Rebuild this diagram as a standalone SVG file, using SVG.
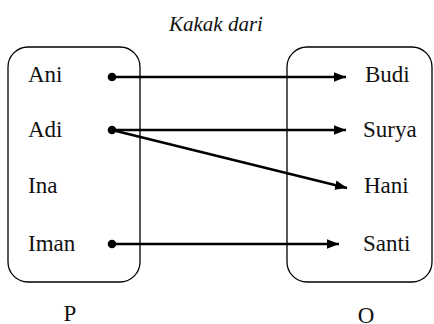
<svg xmlns="http://www.w3.org/2000/svg" width="434" height="324" viewBox="0 0 434 324">
  <style>
    .set { fill: none; stroke: #000; stroke-width: 1.3; }
    .lbl { font-family: 'Liberation Serif', 'DejaVu Serif', serif; font-size: 23px; fill: #111; }
    .ttl { font-family: 'Liberation Serif', 'DejaVu Serif', serif; font-size: 21px; font-style: italic; fill: #111; }
    .edge { stroke: #000; stroke-width: 2.5; fill: none; marker-end: url(#arrow); }
    .dot { fill: #000; }
  </style>
  <defs>
    <!-- solid triangular arrowhead, tip at the line end -->
    <marker id="arrow" markerWidth="13" markerHeight="11" refX="12" refY="5" orient="auto" markerUnits="userSpaceOnUse">
      <path d="M0,0.2 L12,5 L0,9.8 Z" fill="#000"/>
    </marker>
  </defs>

  <text class="ttl" x="216" y="31" text-anchor="middle">Kakak dari</text>

  <g id="set-P">
    <rect class="set" x="8" y="47" width="132" height="235" rx="20" ry="20"/>
    <text class="lbl" x="70" y="321" text-anchor="middle">P</text>
  </g>
  <g id="set-O">
    <rect class="set" x="287" y="47" width="145" height="235" rx="20" ry="20"/>
    <text class="lbl" x="366" y="323" text-anchor="middle">O</text>
  </g>

  <g id="node-ani"><text class="lbl" x="28" y="82">Ani</text></g>
  <g id="node-adi"><text class="lbl" x="28" y="137">Adi</text></g>
  <g id="node-ina"><text class="lbl" x="28" y="193">Ina</text></g>
  <g id="node-iman"><text class="lbl" x="28" y="251">Iman</text></g>

  <g id="node-budi"><text class="lbl" x="365" y="82">Budi</text></g>
  <g id="node-surya"><text class="lbl" x="363" y="137">Surya</text></g>
  <g id="node-hani"><text class="lbl" x="364" y="193">Hani</text></g>
  <g id="node-santi"><text class="lbl" x="363" y="251">Santi</text></g>

  <g id="connectors">
    <line class="edge" x1="112" y1="77" x2="346" y2="77"/>
    <line class="edge" x1="112" y1="130" x2="346" y2="130"/>
    <line class="edge" x1="112" y1="130" x2="347" y2="188"/>
    <line class="edge" x1="112" y1="244" x2="339" y2="244"/>
    <circle class="dot" cx="112" cy="77" r="4.3"/>
    <circle class="dot" cx="112" cy="130" r="4.3"/>
    <circle class="dot" cx="112" cy="244" r="4.3"/>
  </g>
</svg>
